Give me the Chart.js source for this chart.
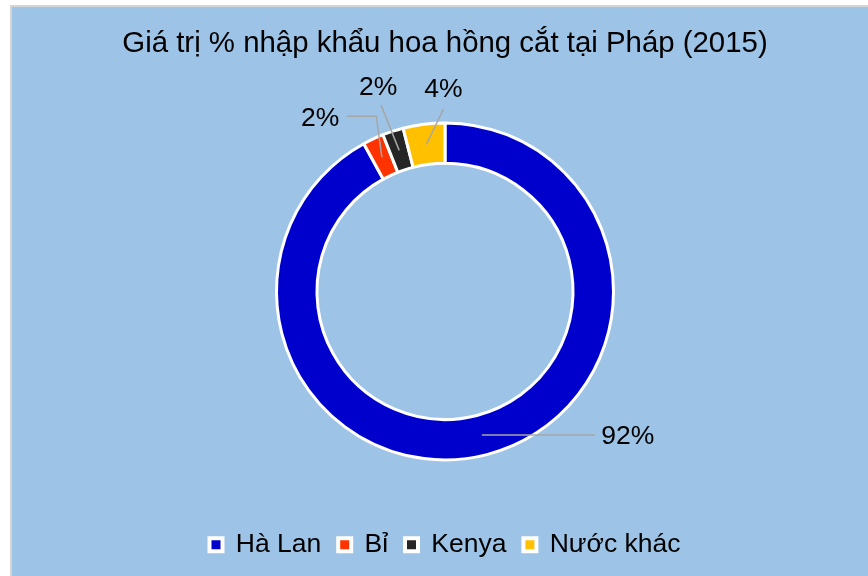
<!DOCTYPE html>
<html>
<head>
    <title>Giá trị % nhập khẩu hoa hồng cắt tại Pháp (2015)</title>
    <script src="https://cdn.jsdelivr.net/npm/chart.js"></script>
    <style>
        body {
            margin: 0;
            padding: 0;
            overflow: hidden;
            background-color: #ffffff;
            font-family: 'Liberation Sans', Arial, sans-serif;
        }
        #chart-container {
            position: absolute;
            left: 10px;
            top: 5px;
            width: 858px;
            height: 571px;
            box-sizing: border-box;
            background-color: #9DC3E6;
            border-left: 2px solid #D4D4D4;
            border-top: 2px solid #D4D4D4;
        }
    </style>
</head>
<body>
    <div id="chart-container">
        <canvas id="myChart"></canvas>
    </div>

    <script>
        // Dữ liệu
        const countries = ['Hà Lan', 'Bỉ', 'Kenya', 'Nước khác'];
        const shares = [92, 2, 2, 4];
        const sliceColors = ['#0000CC', '#FF3300', '#262626', '#FFC000'];

        // Vị trí nhãn (lệch so với điểm giữa cung): [gấp khúc, cuối đường, chữ]
        const labelOffsets = [
            { bend: null, end: [113, 0], text: [146, 2] },
            { bend: [-5.6, -41], end: [-34.6, -41], text: [-61.6, -39] },
            { bend: null, end: [-18, -45], text: [-21, -63] },
            { bend: null, end: [17, -35], text: [17, -55] }
        ];

        const leaderLabels = {
            id: 'leaderLabels',
            afterDatasetsDraw(chart) {
                const ctx = chart.ctx;
                const meta = chart.getDatasetMeta(0);
                ctx.save();
                meta.data.forEach((arc, i) => {
                    const p = arc.getProps(['x', 'y', 'startAngle', 'endAngle', 'innerRadius', 'outerRadius'], true);
                    const mid = (p.startAngle + p.endAngle) / 2;
                    const r = (p.innerRadius + p.outerRadius) / 2;
                    const ax = p.x + Math.cos(mid) * r;
                    const ay = p.y + Math.sin(mid) * r;
                    const o = labelOffsets[i];
                    ctx.strokeStyle = '#A6A6A6';
                    ctx.lineWidth = 1.5;
                    ctx.beginPath();
                    ctx.moveTo(ax, ay);
                    if (o.bend) ctx.lineTo(ax + o.bend[0], ay + o.bend[1]);
                    ctx.lineTo(ax + o.end[0], ay + o.end[1]);
                    ctx.stroke();
                    ctx.fillStyle = '#000000';
                    ctx.font = "26.5px 'Liberation Sans', Arial, sans-serif";
                    ctx.textAlign = 'center';
                    ctx.textBaseline = 'middle';
                    ctx.fillText(shares[i] + '%', ax + o.text[0], ay + o.text[1]);
                });
                ctx.restore();
            }
        };

        const ctx = document.getElementById('myChart');
        Chart.defaults.font.family = "'Liberation Sans', Arial, sans-serif";
        Chart.defaults.color = '#000000';

        new Chart(ctx, {
            type: 'doughnut',
            data: {
                labels: countries,
                datasets: [{
                    data: shares,
                    backgroundColor: sliceColors,
                    borderColor: '#FFFFFF',
                    borderWidth: 3
                }]
            },
            options: {
                responsive: true,
                maintainAspectRatio: false,
                animation: false,
                radius: 168.5,
                cutout: '76%',
                layout: {
                    padding: { left: 20, right: 10, top: 0, bottom: 8 }
                },
                plugins: {
                    title: {
                        display: true,
                        text: 'Giá trị % nhập khẩu hoa hồng cắt tại Pháp (2015)',
                        color: '#000000',
                        font: { size: 29.4, weight: 'normal' },
                        padding: { top: 19.5, bottom: 6.5 }
                    },
                    legend: {
                        position: 'bottom',
                        labels: {
                            boxWidth: 13,
                            boxHeight: 13,
                            padding: 17,
                            color: '#000000',
                            font: { size: 26.5 },
                            generateLabels(chart) {
                                const items = Chart.overrides.doughnut.plugins.legend.labels.generateLabels(chart);
                                items.forEach(it => { it.lineWidth = 4; it.strokeStyle = '#FFFFFF'; });
                                return items;
                            }
                        }
                    },
                    tooltip: { enabled: false }
                }
            },
            plugins: [leaderLabels]
        });
    </script>
</body>
</html>
